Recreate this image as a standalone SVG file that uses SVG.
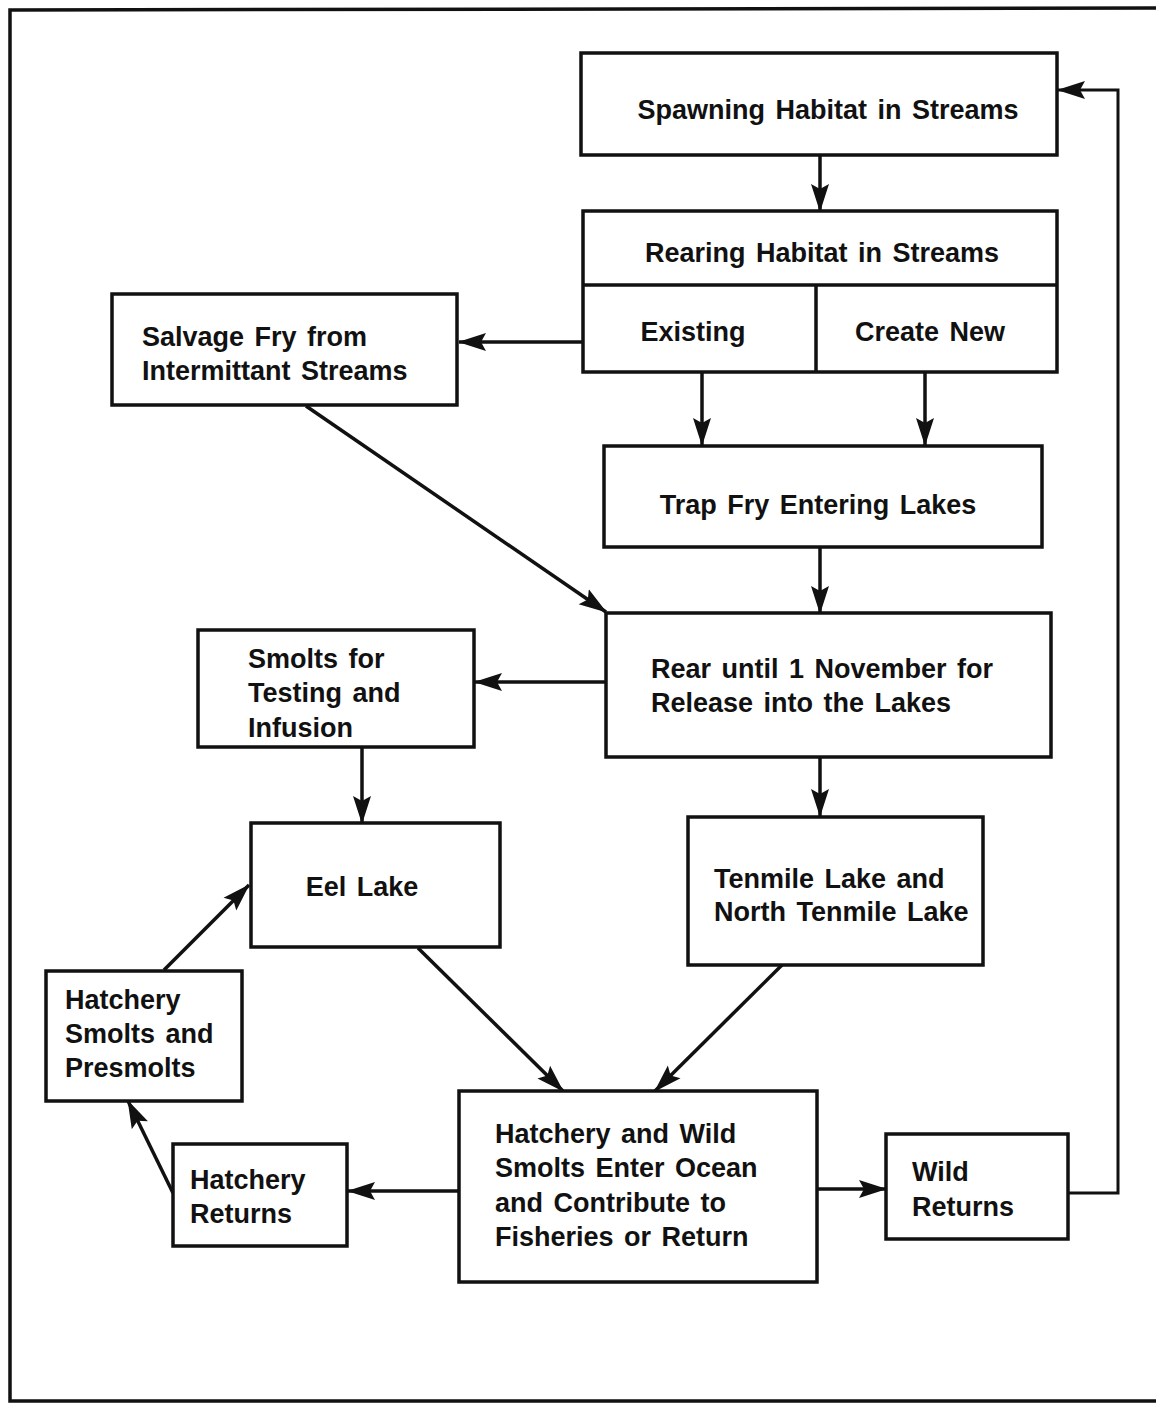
<svg xmlns="http://www.w3.org/2000/svg" width="1156" height="1405" viewBox="0 0 1156 1405">
<defs>
<marker id="ah" viewBox="0 0 28 20" refX="27" refY="10" markerWidth="28" markerHeight="20" markerUnits="userSpaceOnUse" orient="auto">
<path d="M0,1 L28,10 L0,19 L5,10 Z" fill="#111"/>
</marker>
<style>
.box{fill:#fff;stroke:#111;stroke-width:3.5}
.ln{fill:none;stroke:#111;stroke-width:3.5}
.c{fill:none;stroke:#111;stroke-width:3.5;marker-end:url(#ah)}
.fb{fill:none;stroke:#111;stroke-width:3;marker-end:url(#ah)}
text{font-family:"Liberation Sans",Arial,sans-serif;font-weight:bold;font-size:27px;fill:#111;word-spacing:3px}
.m{text-anchor:middle}
</style>
</defs>
<rect width="1156" height="1405" fill="#fff"/>
<path class="ln" d="M1156,8 L10,10 L10,1401 L1156,1401"/>

<g id="connectors">
<line class="c" x1="820" y1="155" x2="820" y2="211"/>
<line class="c" x1="583" y1="342" x2="459" y2="342"/>
<line class="c" x1="702" y1="372" x2="702" y2="445"/>
<line class="c" x1="925" y1="372" x2="925" y2="445"/>
<line class="c" x1="306" y1="406" x2="606" y2="612"/>
<line class="c" x1="820" y1="547" x2="820" y2="613"/>
<line class="c" x1="606" y1="682" x2="475" y2="682"/>
<line class="c" x1="362" y1="747" x2="362" y2="823"/>
<line class="c" x1="820" y1="757" x2="820" y2="816"/>
<line class="c" x1="418" y1="948" x2="563" y2="1091"/>
<line class="c" x1="782" y1="965" x2="655" y2="1091"/>
<line class="c" x1="458" y1="1191" x2="348" y2="1191"/>
<line class="c" x1="818" y1="1189" x2="886" y2="1189"/>
<polyline class="fb" points="1068,1193 1118,1193 1118,90 1058,90"/>
<line class="c" x1="173" y1="1193" x2="128" y2="1101"/>
<line class="c" x1="164" y1="970" x2="249" y2="885"/>
</g>

<g id="spawning">
<rect class="box" x="581" y="53" width="476" height="102"/>
<text class="m" x="828" y="119">Spawning Habitat in Streams</text>
</g>
<g id="rearing">
<rect class="box" x="583" y="211" width="474" height="161"/>
<line class="ln" x1="583" y1="285" x2="1057" y2="285"/>
<line class="ln" x1="816" y1="285" x2="816" y2="372"/>
<text class="m" x="822" y="262">Rearing Habitat in Streams</text>
</g>
<g id="existing">
<text class="m" x="693" y="341">Existing</text>
</g>
<g id="create-new">
<text class="m" x="930" y="341">Create New</text>
</g>
<g id="salvage">
<rect class="box" x="112" y="294" width="345" height="111"/>
<text x="142" y="346">Salvage Fry from</text>
<text x="142" y="380">Intermittant  Streams</text>
</g>
<g id="trap">
<rect class="box" x="604" y="446" width="438" height="101"/>
<text class="m" x="818" y="514">Trap Fry Entering Lakes</text>
</g>
<g id="rear">
<rect class="box" x="606" y="613" width="445" height="144"/>
<text x="651" y="678">Rear until 1 November for</text>
<text x="651" y="712">Release into the Lakes</text>
</g>
<g id="smolts">
<rect class="box" x="198" y="630" width="276" height="117"/>
<text x="248" y="668">Smolts for</text>
<text x="248" y="702">Testing and</text>
<text x="248" y="737">Infusion</text>
</g>
<g id="eel">
<rect class="box" x="251" y="823" width="249" height="124"/>
<text class="m" x="362" y="896">Eel Lake</text>
</g>
<g id="tenmile">
<rect class="box" x="688" y="817" width="295" height="148"/>
<text x="714" y="888">Tenmile Lake and</text>
<text x="714" y="921">North Tenmile Lake</text>
</g>
<g id="hatchery-smolts">
<rect class="box" x="46" y="971" width="196" height="130"/>
<text x="65" y="1009">Hatchery</text>
<text x="65" y="1043">Smolts and</text>
<text x="65" y="1077">Presmolts</text>
</g>
<g id="ocean">
<rect class="box" x="459" y="1091" width="358" height="191"/>
<text x="495" y="1143">Hatchery and Wild</text>
<text x="495" y="1177">Smolts Enter Ocean</text>
<text x="495" y="1212">and Contribute to</text>
<text x="495" y="1246">Fisheries  or  Return</text>
</g>
<g id="hatchery-returns">
<rect class="box" x="173" y="1144" width="174" height="102"/>
<text x="190" y="1189">Hatchery</text>
<text x="190" y="1223">Returns</text>
</g>
<g id="wild-returns">
<rect class="box" x="886" y="1134" width="182" height="105"/>
<text x="912" y="1181">Wild</text>
<text x="912" y="1216">Returns</text>
</g>
</svg>
